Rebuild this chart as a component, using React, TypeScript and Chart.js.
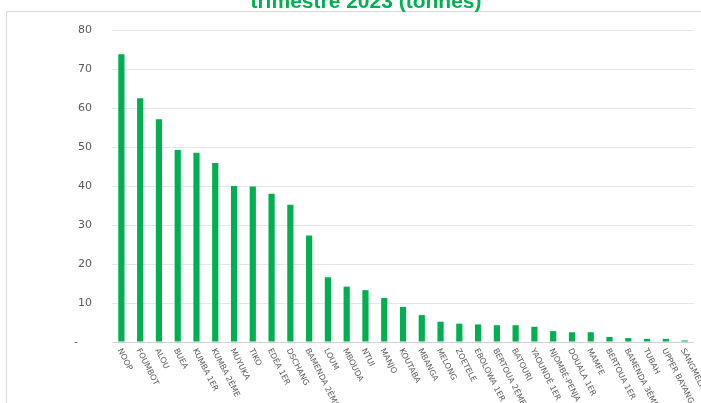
import React, { useEffect, useRef } from "react";
import { Chart, registerables } from "chart.js";

Chart.register(...registerables);

const TITLE_VISIBLE = "trimestre 2023 (tonnes)";

const communes = [
  "NOOP", "FOUMBOT", "ALOU", "BUEA", "KUMBA 1ER", "KUMBA 2ÈME", "MUYUKA", "TIKO",
  "EDÉA 1ER", "DSCHANG", "BAMENDA 2ÈME", "LOUM", "MBOUDA", "NTUI", "MANJO",
  "KOUTABA", "MBANGA", "MELONG", "ZOETELE", "EBOLOWA 1ER", "BERTOUA 2ÈME",
  "BATOURI", "YAOUNDÉ 1ER", "NJOMBÉ-PENJA", "DOUALA 1ER", "MAMFE", "BERTOUA 1ER",
  "BAMENDA 3ÈME", "TUBAH", "UPPER BAYANG", "SANGMÉLIMA",
];

const production = [
  73.8, 62.5, 57.1, 49.2, 48.5, 45.9, 40.0, 39.9,
  38.0, 35.2, 27.3, 16.6, 14.2, 13.3, 11.3,
  9.0, 6.9, 5.2, 4.7, 4.5, 4.3,
  4.3, 3.9, 2.8, 2.5, 2.5, 1.3,
  1.0, 0.8, 0.8, 0.4,
];

const yMin = 0;
const yMax = 80;
const yStep = 10;

const framePlugin = {
  id: "frameAndTitle",
  beforeDraw(chart: any) {
    const ctx = chart.ctx;
    ctx.save();
    ctx.strokeStyle = "#d9d9d9";
    ctx.lineWidth = 1;
    ctx.beginPath();
    ctx.moveTo(6.5, chart.height);
    ctx.lineTo(6.5, 11.5);
    ctx.lineTo(chart.width, 11.5);
    ctx.stroke();
    ctx.restore();
  },
  afterDraw(chart: any) {
    const ctx = chart.ctx;
    ctx.save();
    ctx.font = 'bold 21px "Liberation Sans", Arial, sans-serif';
    ctx.fillStyle = "#00B050";
    ctx.textAlign = "center";
    ctx.textBaseline = "alphabetic";
    ctx.fillText(TITLE_VISIBLE, 366, 8);
    ctx.restore();

    const xs = chart.scales.x;
    ctx.save();
    ctx.font = '8px "DejaVu Sans", sans-serif';
    ctx.fillStyle = "#595959";
    communes.forEach((lab, i) => {
      const px = xs.getPixelForValue(i);
      ctx.save();
      ctx.translate(px - 2, xs.top + 7);
      ctx.rotate((63 * Math.PI) / 180);
      ctx.textAlign = "left";
      ctx.textBaseline = "middle";
      ctx.fillText(lab, 0, 0);
      ctx.restore();
    });
    ctx.restore();
  },
};

export default function App() {
  const ref = useRef<HTMLCanvasElement | null>(null);

  useEffect(() => {
    if (!ref.current) return;
    const chart = new Chart(ref.current, {
      type: "bar",
      data: {
        labels: communes,
        datasets: [
          {
            data: production,
            backgroundColor: "#00B050",
            borderWidth: 0,
            categoryPercentage: 1,
            barPercentage: 0.33,
          },
        ],
      },
      options: {
        animation: false,
        responsive: true,
        maintainAspectRatio: false,
        layout: { padding: { top: 30, right: 7, left: 0, bottom: 0 } },
        plugins: {
          legend: { display: false },
          title: { display: false },
          tooltip: { enabled: false },
        },
        scales: {
          x: {
            grid: { display: false, drawTicks: false },
            border: { display: false },
            ticks: { display: false },
            afterFit(scale: any) {
              scale.height = 61;
            },
          },
          y: {
            min: yMin,
            max: yMax,
            border: { display: false },
            grid: {
              drawTicks: false,
              color: (c: any) => (c.tick && c.tick.value === 0 ? "#d0d0d0" : "#e6e6e6"),
            },
            ticks: {
              stepSize: yStep,
              padding: 20,
              color: "#595959",
              font: { family: '"DejaVu Sans", sans-serif', size: 11 },
              callback: (v: any) => (Number(v) === 0 ? "-    " : String(v)),
            },
            afterFit(scale: any) {
              scale.width = 112;
            },
          },
        },
      },
      plugins: [framePlugin],
    });
    return () => chart.destroy();
  }, []);

  return (
    <div style={{ position: "fixed", left: 0, top: 0, width: 701, height: 403, background: "#fff" }}>
      <canvas ref={ref} />
    </div>
  );
}
